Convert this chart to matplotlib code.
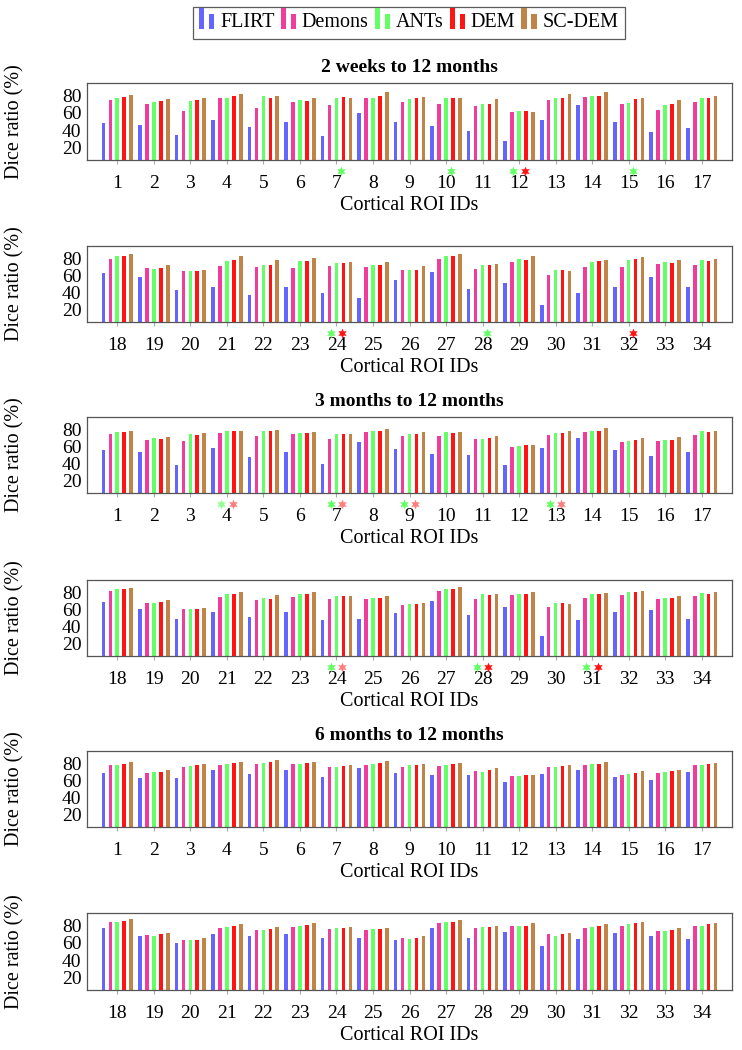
import numpy as np
import matplotlib.pyplot as plt
from matplotlib.patches import Rectangle
from matplotlib.legend_handler import HandlerBase
import matplotlib.transforms as mtransforms

plt.rcParams["font.family"] = ["Liberation Serif", "DejaVu Serif"]

METHODS = ["FLIRT", "Demons", "ANTs", "DEM", "SC-DEM"]
COLORS = ["#6464ff", "#f03c9b", "#64ff64", "#ff1414", "#c08448"]
ROI_IDS = list(range(1, 35))
PERIODS = ["2 weeks to 12 months", "3 months to 12 months", "6 months to 12 months"]

# ---- 2 weeks to 12 months ----
FLIRT_2W = [48, 46, 34, 52, 43, 49, 33, 60, 49, 45, 39, 27, 52, 69, 50, 38, 42,
            63, 58, 43, 46, 37, 46, 39, 33, 55, 64, 44, 51, 25, 39, 47, 58, 47]
DEMONS_2W = [75, 71, 62, 77, 66, 73, 69, 78, 73, 71, 68, 61, 75, 79, 71, 64, 73,
             80, 69, 65, 71, 70, 69, 71, 70, 66, 80, 68, 76, 61, 70, 70, 74, 73]
ANTS_2W = [78, 73, 74, 78, 80, 75, 78, 78, 76, 77, 70, 62, 78, 80, 72, 69, 78,
           83, 68, 65, 77, 72, 77, 75, 73, 67, 83, 73, 80, 67, 76, 79, 76, 78]
DEM_2W = [79, 74, 75, 80, 78, 74, 79, 80, 77, 77, 71, 62, 78, 80, 76, 71, 78,
          83, 69, 65, 79, 72, 77, 75, 73, 66, 83, 73, 79, 66, 77, 80, 75, 77]
SCDEM_2W = [81, 76, 77, 82, 80, 77, 78, 84, 79, 77, 76, 61, 82, 85, 78, 75, 80,
            86, 73, 67, 83, 78, 81, 76, 76, 71, 86, 74, 83, 65, 79, 82, 78, 80]

# ---- 3 months to 12 months ----
FLIRT_3M = [56, 54, 38, 58, 48, 54, 39, 65, 57, 51, 50, 38, 58, 70, 56, 49, 53,
            69, 61, 49, 57, 51, 57, 48, 49, 56, 70, 54, 63, 29, 48, 57, 59, 49]
DEMONS_3M = [75, 68, 67, 76, 72, 75, 69, 77, 73, 73, 69, 60, 74, 77, 65, 66, 74,
             82, 68, 61, 75, 71, 75, 73, 72, 65, 82, 73, 77, 63, 74, 77, 73, 76]
ANTS_3M = [77, 70, 75, 78, 79, 76, 75, 79, 75, 77, 69, 61, 76, 79, 67, 68, 78,
           84, 68, 61, 78, 74, 78, 76, 74, 66, 84, 78, 79, 68, 78, 81, 74, 80]
DEM_3M = [77, 69, 74, 78, 79, 76, 75, 78, 75, 76, 70, 62, 76, 79, 68, 68, 77,
          84, 69, 61, 78, 73, 78, 76, 74, 67, 84, 77, 79, 68, 78, 81, 74, 79]
SCDEM_3M = [79, 71, 76, 79, 80, 77, 75, 81, 77, 77, 72, 62, 79, 82, 70, 71, 79,
            86, 71, 62, 81, 77, 81, 76, 76, 68, 87, 78, 81, 66, 80, 82, 76, 81]

# ---- 6 months to 12 months ----
FLIRT_6M = [69, 63, 63, 72, 68, 73, 64, 75, 69, 66, 66, 58, 68, 73, 64, 61, 70,
            78, 68, 60, 70, 68, 70, 66, 66, 64, 77, 66, 73, 56, 65, 72, 68, 65]
DEMONS_6M = [78, 69, 76, 79, 80, 80, 76, 79, 76, 77, 71, 65, 76, 78, 67, 69, 78,
             84, 69, 64, 77, 75, 79, 76, 75, 66, 83, 77, 80, 70, 78, 80, 74, 80]
ANTS_6M = [79, 70, 77, 80, 81, 80, 76, 80, 78, 79, 70, 65, 76, 80, 68, 70, 79,
           85, 68, 63, 79, 75, 80, 77, 76, 65, 85, 79, 80, 68, 79, 82, 74, 80]
DEM_6M = [80, 70, 78, 81, 82, 81, 77, 81, 78, 80, 72, 66, 77, 80, 69, 71, 80,
          86, 70, 64, 80, 76, 81, 78, 76, 66, 85, 79, 80, 70, 80, 83, 75, 82]
SCDEM_6M = [82, 72, 80, 82, 84, 82, 78, 83, 80, 81, 75, 67, 79, 82, 71, 73, 81,
            88, 72, 66, 82, 79, 83, 79, 78, 68, 87, 80, 83, 72, 82, 85, 77, 83]

# significance stars: (roi, method, alpha)
STARS_2W = [(7, "ANTs", 1), (10, "ANTs", 1), (12, "ANTs", 1), (12, "DEM", 1),
            (15, "ANTs", 1), (24, "ANTs", 1), (24, "DEM", 1), (28, "ANTs", 1),
            (32, "DEM", 1)]
STARS_3M = [(4, "ANTs", 0.7), (4, "DEM", 0.55), (7, "ANTs", 1), (7, "DEM", 0.55),
            (9, "ANTs", 1), (9, "DEM", 0.55), (13, "ANTs", 1), (13, "DEM", 0.55),
            (24, "ANTs", 1), (24, "DEM", 0.55), (28, "ANTs", 1), (28, "DEM", 1),
            (31, "ANTs", 1), (31, "DEM", 1)]
STARS_6M = []

FS = 14.5   # labels / legend
TFS = 14    # tick labels


class TwoBarHandler(HandlerBase):
    """pgfplots-style ybar legend image: two small bars"""
    def create_artists(self, legend, orig_handle, xdescent, ydescent,
                       width, height, fontsize, trans):
        c = orig_handle.get_facecolor()
        w = width * 0.32
        r1 = Rectangle((-xdescent, -ydescent - 0.1 * height), w, height * 1.45,
                       facecolor=c, edgecolor="none", transform=trans)
        r2 = Rectangle((-xdescent + width * 0.62, -ydescent - 0.1 * height), w,
                       height * 1.05, facecolor=c, edgecolor="none", transform=trans)
        return [r1, r2]


fig = plt.figure(figsize=(7.42, 10.5), dpi=100)
W, H = 742.0, 1050.0
left, right = 87, 732
panel_px = [(83, 160), (246, 322), (417, 493), (580, 656), (751, 827), (913, 990)]

period_data = [
    (FLIRT_2W, DEMONS_2W, ANTS_2W, DEM_2W, SCDEM_2W),
    (FLIRT_3M, DEMONS_3M, ANTS_3M, DEM_3M, SCDEM_3M),
    (FLIRT_6M, DEMONS_6M, ANTS_6M, DEM_6M, SCDEM_6M),
]
period_stars = [STARS_2W, STARS_3M, STARS_6M]

offsets = np.array([-0.38, -0.19, 0.0, 0.19, 0.38])
bar_w = 0.1
handles = []

for i, (top, bot) in enumerate(panel_px):
    p = i // 2
    half = i % 2
    ax = fig.add_axes([left / W, 1 - bot / H, (right - left) / W, (bot - top) / H])
    rois = ROI_IDS[:17] if half == 0 else ROI_IDS[17:]
    sl = slice(0, 17) if half == 0 else slice(17, 34)
    x = np.arange(17) + 1
    for k, vals in enumerate(period_data[p]):
        b = ax.bar(x + offsets[k], vals[sl], width=bar_w, color=COLORS[k],
                   edgecolor="none", label=METHODS[k])
        if i == 0:
            handles.append(b.patches[0])

    # stars under the axis
    trans = mtransforms.blended_transform_factory(ax.transData, ax.transAxes)
    for roi, m, a in period_stars[p]:
        if roi not in rois:
            continue
        pair = sum(1 for r, _, _ in period_stars[p] if r == roi) == 2
        if pair:
            dx = -0.16 if m == "ANTs" else 0.16
        else:
            dx = 0.13
        col = COLORS[METHODS.index(m)]
        ax.plot(roi - rois[0] + 1 + dx, -0.14, marker=(6, 1, 0), ms=7,
                color=col, alpha=a, mec="none", transform=trans, clip_on=False)

    ax.set_xlim(0.17, 17.83)
    ax.set_ylim(5, 95)
    ax.set_xticks(x)
    ax.set_xticklabels([str(r) for r in rois])
    ax.set_yticks([20, 40, 60, 80])
    ax.tick_params(axis="x", direction="out", length=3, color="#aaaaaa",
                   pad=8, labelsize=TFS)
    ax.tick_params(axis="y", direction="in", length=0, pad=4, labelsize=TFS)
    for s in ax.spines.values():
        s.set_color("#555555")
        s.set_linewidth(0.9)
    ax.set_xlabel("Cortical ROI IDs", fontsize=FS, labelpad=3)
    ax.set_ylabel("Dice ratio (%)", fontsize=FS)
    ax.yaxis.set_label_coords(-0.097, 0.5)
    if half == 0:
        ax.set_title(PERIODS[p], fontsize=14, fontweight="bold", pad=8)

leg = fig.legend(handles, METHODS, loc="upper center", ncol=5,
                 bbox_to_anchor=(0.551, 0.993), borderaxespad=0, fontsize=FS,
                 handler_map={h: TwoBarHandler() for h in handles},
                 handlelength=0.8, handleheight=0.7, handletextpad=0.25,
                 columnspacing=0.3, borderpad=0.3, fancybox=False,
                 frameon=True, edgecolor="#333333")
leg.get_frame().set_linewidth(0.9)

fig.savefig("out.png", dpi=100)
